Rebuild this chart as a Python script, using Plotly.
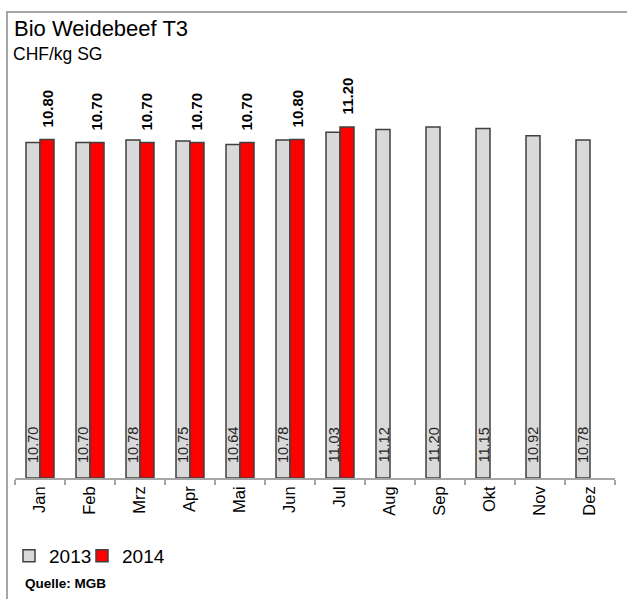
import plotly.graph_objects as go

months = ["Jan", "Feb", "Mrz", "Apr", "Mai", "Jun", "Jul", "Aug", "Sep", "Okt", "Nov", "Dez"]
values_2013 = [10.70, 10.70, 10.78, 10.75, 10.64, 10.78, 11.03, 11.12, 11.20, 11.15, 10.92, 10.78]
values_2014 = [10.80, 10.70, 10.70, 10.70, 10.70, 10.80, 11.20]
months_2014 = months[:len(values_2014)]

W, H = 627, 599
L, R, T, B = 15, 12, 40, 121
plot_w = W - L - R
plot_h = H - T - B
px_per_unit = 31.35
ymax = plot_h / px_per_unit


def px_to_paper_x(px):
    return (px - L) / plot_w


def px_to_paper_y(py):
    return (H - B - py) / plot_h


FONT = "Liberation Sans, Arial, sans-serif"

fig = go.Figure()
fig.add_trace(go.Bar(
    x=months, y=values_2013, name="2013", legendwidth=28,
    marker=dict(color="#d9d9d9", line=dict(color="#404040", width=1.5)),
))
fig.add_trace(go.Bar(
    x=months_2014, y=values_2014, name="2014",
    marker=dict(color="#ff0000", line=dict(color="#404040", width=1.5)),
))

annotations = []
for m, v in zip(months, values_2013):
    annotations.append(dict(
        x=m, y=0, xref="x", yref="y", text=f"{v:.2f}", showarrow=False,
        textangle=-90, xanchor="center", yanchor="bottom", xshift=-7, yshift=13,
        font=dict(family=FONT, size=14.5, color="#262626"),
    ))
for m, v in zip(months_2014, values_2014):
    annotations.append(dict(
        x=m, y=v, xref="x", yref="y", text=f"<b>{v:.2f}</b>", showarrow=False,
        textangle=-90, xanchor="center", yanchor="bottom", xshift=7, yshift=10,
        font=dict(family=FONT, size=15, color="#000000"),
    ))

annotations += [
    dict(x=px_to_paper_x(12), y=px_to_paper_y(29), xref="paper", yref="paper",
         text="Bio Weidebeef T3", showarrow=False, xanchor="left", yanchor="middle",
         font=dict(family=FONT, size=22, color="#000000")),
    dict(x=px_to_paper_x(11), y=px_to_paper_y(54), xref="paper", yref="paper",
         text="CHF/kg SG", showarrow=False, xanchor="left", yanchor="middle",
         font=dict(family=FONT, size=17.5, color="#000000")),
    dict(x=px_to_paper_x(23), y=px_to_paper_y(583), xref="paper", yref="paper",
         text="<b>Quelle: MGB</b>", showarrow=False, xanchor="left", yanchor="middle",
         font=dict(family=FONT, size=13.5, color="#000000")),
]

fig.update_layout(
    width=W, height=H,
    margin=dict(l=L, r=R, t=T, b=B, pad=0, autoexpand=False),
    paper_bgcolor="white", plot_bgcolor="white",
    barmode="group", bargap=0.44, bargroupgap=0,
    font=dict(family=FONT, color="#000000"),
    showlegend=True,
    legend=dict(orientation="h", x=px_to_paper_x(9), y=px_to_paper_y(556),
                xanchor="left", yanchor="middle",
                font=dict(family=FONT, size=19, color="#000000"),
                bgcolor="rgba(0,0,0,0)", itemclick=False),
    annotations=annotations,
    shapes=[dict(type="rect", xref="paper", yref="paper",
                 x0=px_to_paper_x(7), x1=px_to_paper_x(640),
                 y0=px_to_paper_y(620), y1=px_to_paper_y(12),
                 line=dict(color="#a6a6a6", width=2), fillcolor="rgba(0,0,0,0)",
                 layer="below")],
)
fig.update_xaxes(
    showline=True, linecolor="#a6a6a6", linewidth=1.5,
    ticks="outside", tickson="boundaries", ticklen=5, tickcolor="#a6a6a6", tickwidth=1.5,
    tickangle=-90, tickfont=dict(family=FONT, size=16.5, color="#000000"),
    showgrid=False, zeroline=False, fixedrange=True, automargin=False,
)
fig.update_yaxes(
    range=[0, ymax], visible=False, showgrid=False, zeroline=False, fixedrange=True,
    automargin=False,
)

fig.write_html(
    "out.html",
    config={"displayModeBar": False},
    post_script="document.body.style.margin='0';document.body.style.overflow='hidden';",
)
